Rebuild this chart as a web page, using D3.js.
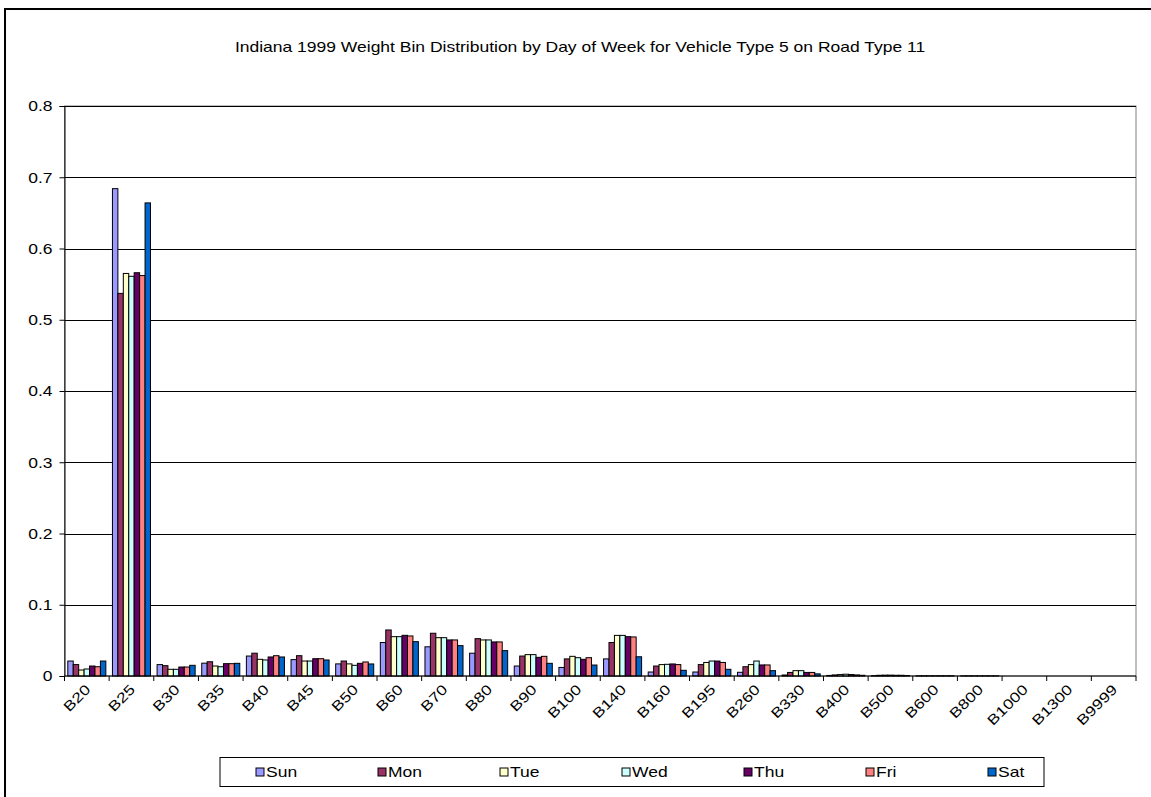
<!DOCTYPE html>
<html>
<head>
<meta charset="utf-8">
<script src="https://cdn.jsdelivr.net/npm/d3@7"></script>
<style>
  body { margin: 0; background: #fff; }
  svg { display: block; font-family: "Liberation Sans", Arial, sans-serif; }
</style>
</head>
<body>
<div id="container"></div>
<script>
"use strict";

const width = 1151;
const height = 797;

// weight bins (categories)
const bins = ["B20","B25","B30","B35","B40","B45","B50","B60","B70","B80","B90","B100",
  "B140","B160","B195","B260","B330","B400","B500","B600","B800","B1000","B1300","B9999"];

const days = ["Sun","Mon","Tue","Wed","Thu","Fri","Sat"];
const dayColors = ["#9999ff","#993366","#ffffcc","#ccffff","#660066","#ff8080","#0066cc"];

// values, one array per day
const sun = [0.021,0.684,0.016,0.018,0.028,0.023,0.017,0.047,0.041,0.032,0.014,0.012,0.024,0.0056,0.0056,0.0052,0.0014,0.0008,0.0005,0.0003,0.0002,0,0,0];
const mon = [0.016,0.537,0.0145,0.020,0.032,0.0285,0.021,0.0646,0.060,0.0524,0.028,0.024,0.047,0.014,0.016,0.013,0.005,0.0015,0.001,0.0003,0.0002,0,0,0];
const tue = [0.0084,0.565,0.0094,0.014,0.0234,0.021,0.017,0.0552,0.0538,0.0506,0.030,0.0276,0.057,0.016,0.019,0.016,0.0075,0.002,0.0012,0.0003,0.0002,0,0,0];
const wed = [0.0098,0.561,0.0094,0.013,0.0225,0.021,0.015,0.0552,0.0538,0.0506,0.030,0.0257,0.057,0.0164,0.021,0.021,0.0075,0.0025,0.0012,0.0003,0.0002,0,0,0];
const thu = [0.014,0.566,0.0126,0.0173,0.0267,0.0243,0.0178,0.0571,0.0506,0.0478,0.0262,0.0234,0.0552,0.0169,0.021,0.0155,0.005,0.002,0.001,0.0003,0.0002,0,0,0];
const fri = [0.013,0.562,0.0126,0.0173,0.0285,0.0243,0.0197,0.0562,0.0506,0.0478,0.0276,0.0257,0.0548,0.016,0.019,0.0155,0.005,0.0015,0.001,0.0003,0.0002,0,0,0];
const sat = [0.021,0.664,0.015,0.0178,0.0267,0.0225,0.0169,0.0482,0.0426,0.0356,0.0178,0.0154,0.027,0.008,0.0094,0.0075,0.003,0.001,0.0006,0.0003,0.0002,0,0,0];
const series = [sun, mon, tue, wed, thu, fri, sat];

const yTicks = [0,0.1,0.2,0.3,0.4,0.5,0.6,0.7,0.8];
const title = "Indiana 1999 Weight Bin Distribution by Day of Week for Vehicle Type 5 on Road Type 11";

// plot area
const plot = { left: 64.5, right: 1136, top: 106, bottom: 676 };
// the original text is drawn a bit wide
const stretch = "scale(1.25,1)";

const svg = d3.select("#container").append("svg")
  .attr("width", width)
  .attr("height", height);

// outer chart border (right/bottom run off the picture)
svg.append("rect")
  .attr("x", 5).attr("y", 9)
  .attr("width", 1150).attr("height", 800)
  .attr("fill", "#fff")
  .attr("stroke", "#000")
  .attr("stroke-width", 2);

// title
svg.append("g")
  .attr("transform", "translate(580,52)")
  .append("text")
  .attr("transform", stretch)
  .attr("text-anchor", "middle")
  .attr("font-size", 14)
  .text(title);

const x0 = d3.scaleBand().domain(bins).range([plot.left, plot.right]).padding(0);
const x1 = d3.scaleBand().domain(days).range([3.3, x0.bandwidth() - 3.3]).padding(0);
const y = d3.scaleLinear().domain([0, 0.8]).range([plot.bottom, plot.top]);

// plot area border
svg.append("rect")
  .attr("x", plot.left).attr("y", plot.top)
  .attr("width", plot.right - plot.left)
  .attr("height", plot.bottom - plot.top)
  .attr("fill", "none")
  .attr("stroke", "#808080")
  .attr("stroke-width", 1);

// gridlines
svg.append("g")
  .selectAll("line")
  .data(yTicks.filter(d => d > 0))
  .join("line")
  .attr("x1", plot.left).attr("x2", plot.right)
  .attr("y1", d => Math.round(y(d)) + 0.5).attr("y2", d => Math.round(y(d)) + 0.5)
  .attr("stroke", "#000")
  .attr("stroke-width", 1);

// bars
const groups = svg.append("g")
  .selectAll("g")
  .data(bins)
  .join("g")
  .attr("transform", d => `translate(${x0(d)},0)`);

groups.selectAll("rect")
  .data((b, i) => days.map((day, k) => ({ day, k, value: series[k][i] })))
  .join("rect")
  .attr("x", d => x1(d.day))
  .attr("y", d => y(d.value))
  .attr("width", x1.bandwidth())
  .attr("height", d => y(0) - y(d.value))
  .attr("fill", d => dayColors[d.k])
  .attr("stroke", "#000")
  .attr("stroke-width", 1);

// y axis
const yAxis = svg.append("g")
  .attr("transform", `translate(${plot.left},0)`)
  .call(d3.axisLeft(y).tickValues(yTicks).tickFormat("").tickSize(5));
yAxis.select(".domain").attr("stroke", "#000");
yAxis.selectAll(".tick line").attr("stroke", "#000");
yAxis.selectAll(".tick")
  .append("g")
  .attr("transform", "translate(-12,0)")
  .append("text")
  .attr("transform", stretch)
  .attr("text-anchor", "end")
  .attr("dy", "0.35em")
  .attr("fill", "#000")
  .attr("font-size", 14)
  .attr("font-family", "Liberation Sans, Arial, sans-serif")
  .text(d => d === 0 ? "0" : d3.format(".1f")(d));

// x axis: ticks at category boundaries
const xAxis = svg.append("g")
  .attr("transform", `translate(0,${plot.bottom})`);
xAxis.append("line")
  .attr("x1", plot.left).attr("x2", plot.right)
  .attr("y1", 0).attr("y2", 0)
  .attr("stroke", "#000");
xAxis.selectAll("line.tick")
  .data(bins.concat(["end"]))
  .join("line")
  .attr("class", "tick")
  .attr("x1", (d, i) => plot.left + i * x0.bandwidth())
  .attr("x2", (d, i) => plot.left + i * x0.bandwidth())
  .attr("y1", 0).attr("y2", 5)
  .attr("stroke", "#000");
xAxis.selectAll("g.lab")
  .data(bins)
  .join("g")
  .attr("class", "lab")
  .attr("transform", d => `translate(${x0(d) + x0.bandwidth() / 2 + 1},${11}) rotate(-45)`)
  .append("text")
  .attr("transform", stretch)
  .attr("text-anchor", "end")
  .attr("dy", "0.35em")
  .attr("font-size", 14)
  .text(d => d);

// legend
const legend = svg.append("g");
legend.append("rect")
  .attr("x", 220).attr("y", 757.5)
  .attr("width", 824).attr("height", 29)
  .attr("fill", "#fff")
  .attr("stroke", "#000")
  .attr("stroke-width", 1);

const items = legend.selectAll("g")
  .data(days)
  .join("g")
  .attr("transform", (d, i) => `translate(${256 + i * 122},772)`);
items.append("rect")
  .attr("x", 0).attr("y", -4)
  .attr("width", 8).attr("height", 8)
  .attr("fill", (d, i) => dayColors[i])
  .attr("stroke", "#000")
  .attr("stroke-width", 1);
items.append("g")
  .attr("transform", "translate(10,0)")
  .append("text")
  .attr("transform", stretch)
  .attr("dy", "0.35em")
  .attr("font-size", 14)
  .text(d => d);
</script>
</body>
</html>
